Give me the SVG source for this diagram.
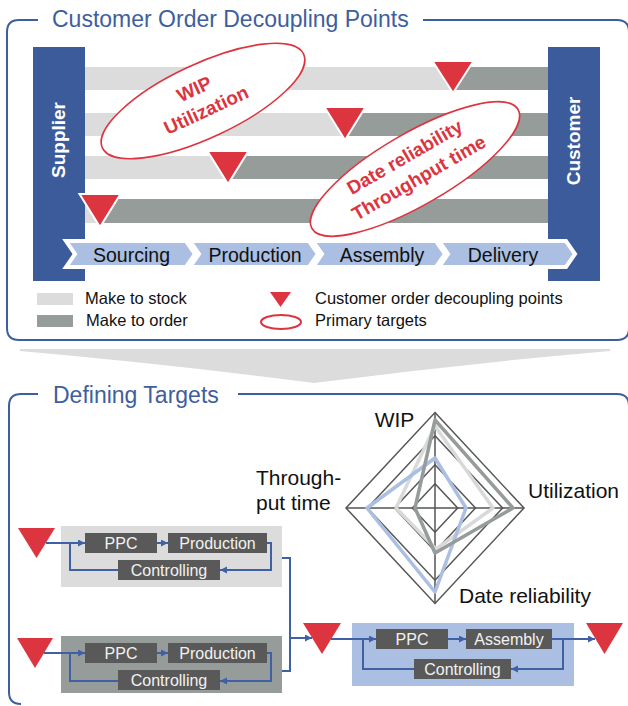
<svg xmlns="http://www.w3.org/2000/svg" width="628" height="706" viewBox="0 0 628 706">
<defs>
<style>
.frame{fill:none;stroke:#3E5E9E;stroke-width:2}
.title{font-family:"Liberation Sans",Arial,sans-serif;font-size:23px;fill:#3E5E9E}
.bar{fill:#3B5B9A}
.barlbl{font-family:"Liberation Sans",Arial,sans-serif;font-size:19px;font-weight:bold;fill:#fff;text-anchor:middle}
.lg{fill:#DCDCDC}
.dg{fill:#959C99}
.tri{fill:#DC3540}
.tri-w{fill:#DC3540;stroke:#fff;stroke-width:2}
.chev{fill:#AABFE1;stroke:#fff;stroke-width:4;stroke-linejoin:miter}
.chevlbl{font-family:"Liberation Sans",Arial,sans-serif;font-size:19.5px;fill:#111;text-anchor:middle}
.lgd{font-family:"Liberation Sans",Arial,sans-serif;font-size:16.5px;fill:#111}
.ell{fill:#fff;stroke:#DC3540;stroke-width:1.6}
.elltxt{font-family:"Liberation Sans",Arial,sans-serif;font-size:19px;font-weight:bold;fill:#DC3540;text-anchor:middle}
.grid{fill:none;stroke:#555;stroke-width:1.5}
.rlbl{font-family:"Liberation Sans",Arial,sans-serif;font-size:21px;fill:#111}
.box{fill:#595959}
.boxtxt{font-family:"Liberation Sans",Arial,sans-serif;font-size:16px;fill:#f2f2f2;text-anchor:middle}
.con{fill:none;stroke:#3F60A5;stroke-width:2}
</style>
<marker id="ah" markerUnits="userSpaceOnUse" markerWidth="8" markerHeight="8" refX="7" refY="3.5" orient="auto">
<path d="M0,0 L7,3.5 L0,7 z" fill="#3F60A5"/>
</marker>
</defs>

<!-- Top section frame -->
<g id="frame-top">
<path class="frame" d="M38,20 H19 Q7,20 7,32 V328 Q7,340 19,340 H617 Q629,340 629,328 V32 Q629,20 617,20 H423"/>
<text class="title" x="52" y="27">Customer Order Decoupling Points</text>
</g>

<!-- Rows -->
<g id="rows">
<rect class="lg" x="85" y="67" width="463" height="23"/>
<rect class="dg" x="453" y="67" width="95" height="23"/>
<rect class="lg" x="85" y="113" width="463" height="23"/>
<rect class="dg" x="345" y="113" width="203" height="23"/>
<rect class="lg" x="85" y="156" width="463" height="23"/>
<rect class="dg" x="228" y="156" width="320" height="23"/>
<rect class="lg" x="85" y="199" width="463" height="24"/>
<rect class="dg" x="100" y="199" width="448" height="24"/>
</g>

<g id="supplier">
<rect class="bar" x="33" y="47" width="52" height="234"/>
<text class="barlbl" transform="translate(65,140) rotate(-90)">Supplier</text>
</g>
<g id="customer">
<rect class="bar" x="548" y="47" width="52" height="234"/>
<text class="barlbl" transform="translate(580,141) rotate(-90)">Customer</text>
</g>

<g id="target-wip">
<g transform="translate(203,101) rotate(-25)">
<ellipse class="ell" cx="0" cy="0" rx="111" ry="37"/>
<text class="elltxt" x="-3" y="-8">WIP</text>
<text class="elltxt" x="-1" y="16">Utilization</text>
</g>
</g>
<g id="target-date">
<g transform="translate(415,169) rotate(-30)">
<ellipse class="ell" cx="0" cy="0" rx="119" ry="36"/>
<text class="elltxt" x="-3" y="-9">Date reliability</text>
<text class="elltxt" x="-1" y="16">Throughput time</text>
</g>
</g>

<g id="decoupling-points">
<polygon class="tri-w" points="432.5,61 473.5,61 453,93"/>
<polygon class="tri-w" points="324.5,107 365.5,107 345,140"/>
<polygon class="tri-w" points="207.5,151 248.5,151 228,184"/>
<polygon class="tri-w" points="79.5,194 120.5,194 100,227"/>
</g>

<g id="sourcing">
<polygon class="chev" points="66,241 186,241 195,254 186,267 66,267 75,254"/>
<text class="chevlbl" x="131.5" y="262">Sourcing</text>
</g>
<g id="production">
<polygon class="chev" points="190,241 309,241 318,254 309,267 190,267 199,254"/>
<text class="chevlbl" x="255" y="262">Production</text>
</g>
<g id="assembly">
<polygon class="chev" points="313,241 436,241 445,254 436,267 313,267 322,254"/>
<text class="chevlbl" x="382" y="262">Assembly</text>
</g>
<g id="delivery">
<polygon class="chev" points="439,241 566,241 575,254 566,267 439,267 448,254"/>
<text class="chevlbl" x="503" y="262">Delivery</text>
</g>

<g id="legend">
<rect class="lg" x="37" y="293" width="36" height="12"/>
<text class="lgd" x="85" y="304">Make to stock</text>
<rect class="dg" x="37" y="315" width="36" height="12"/>
<text class="lgd" x="86" y="326">Make to order</text>
<polygon class="tri" points="270,292 291,292 280.5,307"/>
<text class="lgd" x="315" y="304">Customer order decoupling points</text>
<ellipse cx="281" cy="322" rx="20" ry="7" fill="none" stroke="#DC3540" stroke-width="2"/>
<text class="lgd" x="315" y="326">Primary targets</text>
</g>

<!-- transition funnel -->
<g id="funnel">
<path d="M20,349 L610,349 L610,351 Q460,364 314,383 Q168,364 20,351 Z" fill="#DCDCDC"/>
</g>

<!-- Bottom section frame -->
<g id="frame-bottom">
<path class="frame" d="M38,394 H21 Q9,394 9,406 V692 Q9,704 21,704 M238,394 H617 Q629,394 629,406"/>
<text class="title" x="53" y="403">Defining Targets</text>
</g>

<!-- Radar chart -->
<g id="radar">
<polygon class="grid" points="435,412.5 524,508 435,603.5 346,508"/>
<polygon class="grid" points="435,435.8 502.6,508 435,580.2 367.4,508"/>
<polygon class="grid" points="435,464.8 475.5,508 435,551.2 394.5,508"/>
<polygon class="grid" points="435,483.8 457.7,508 435,532.2 412.3,508"/>
<line class="grid" x1="346" y1="508" x2="524" y2="508"/>
<line class="grid" x1="435" y1="412.5" x2="435" y2="603.5"/>
<polygon points="435,426 493,508 436,549 396,508" fill="none" stroke="#D9D9D9" stroke-width="3.5" stroke-linejoin="round"/>
<polygon points="435,458 466,508 435,592 367,508" fill="none" stroke="#AABFE1" stroke-width="3.5" stroke-linejoin="round"/>
<polygon points="435,420 513,508 435,553 415,508" fill="none" stroke="#959C99" stroke-width="3.5" stroke-linejoin="round"/>
<text class="rlbl" x="394.5" y="427" text-anchor="middle">WIP</text>
<text class="rlbl" x="528" y="498">Utilization</text>
<text class="rlbl" x="256" y="485">Through-</text>
<text class="rlbl" x="256" y="510">put time</text>
<text class="rlbl" x="459" y="603">Date reliability</text>
</g>

<!-- Process group 1 (make to stock) -->
<g id="process-stock">
<rect x="61" y="526" width="221" height="61" fill="#DCDCDC"/>
<polygon class="tri" points="18,528 55,528 36.5,558"/>
<g id="ppc-1"><rect class="box" x="85" y="533" width="72" height="20"/><text class="boxtxt" x="121" y="549">PPC</text></g>
<g id="production-1"><rect class="box" x="168" y="533" width="99" height="20"/><text class="boxtxt" x="217.5" y="549">Production</text></g>
<g id="controlling-1"><rect class="box" x="118" y="560" width="102" height="20"/><text class="boxtxt" x="169" y="576">Controlling</text></g>
</g>

<!-- Process group 2 (make to order) -->
<g id="process-order">
<rect x="61" y="636" width="221" height="57" fill="#959C99"/>
<polygon class="tri" points="17,638 53,638 35,668"/>
<g id="ppc-2"><rect class="box" x="85" y="643" width="72" height="20"/><text class="boxtxt" x="121" y="659">PPC</text></g>
<g id="production-2"><rect class="box" x="168" y="643" width="99" height="20"/><text class="boxtxt" x="217.5" y="659">Production</text></g>
<g id="controlling-2"><rect class="box" x="118" y="670" width="102" height="20"/><text class="boxtxt" x="169" y="686">Controlling</text></g>
</g>

<!-- Process group 3 (assembly) -->
<g id="process-assembly">
<rect x="352" y="623" width="222" height="63" fill="#AABFE1"/>
<g id="ppc-3"><rect class="box" x="376" y="629" width="72" height="20"/><text class="boxtxt" x="412" y="645">PPC</text></g>
<g id="assembly-3"><rect class="box" x="466" y="629" width="86" height="20"/><text class="boxtxt" x="509" y="645">Assembly</text></g>
<g id="controlling-3"><rect class="box" x="414" y="659" width="97" height="20"/><text class="boxtxt" x="462.5" y="675">Controlling</text></g>
</g>
<g id="cdp-mid"><polygon class="tri" points="303,623 341,623 322,654"/></g>
<g id="cdp-out"><polygon class="tri" points="586,623 623,623 604.5,654"/></g>

<!-- Connectors -->
<g id="connectors">
<path class="con" d="M46,543 H85" marker-end="url(#ah)"/>
<path class="con" d="M118,570 H70 V543"/>
<path class="con" d="M157,543 H168" marker-end="url(#ah)"/>
<path class="con" d="M267,543 H271 V570 H220" marker-end="url(#ah)"/>
<path class="con" d="M44,653 H85" marker-end="url(#ah)"/>
<path class="con" d="M118,681 H70 V653"/>
<path class="con" d="M157,653 H168" marker-end="url(#ah)"/>
<path class="con" d="M267,653 H271 V681 H220" marker-end="url(#ah)"/>
<path class="con" d="M282,558 H290 V671 H282"/>
<path class="con" d="M290,638 H312" marker-end="url(#ah)"/>
<path class="con" d="M331,639 H376" marker-end="url(#ah)"/>
<path class="con" d="M414,669 H363 V639"/>
<path class="con" d="M448,639 H466" marker-end="url(#ah)"/>
<path class="con" d="M552,639 H595" marker-end="url(#ah)"/>
<path class="con" d="M563,639 V669 H511" marker-end="url(#ah)"/>
</g>
</svg>
